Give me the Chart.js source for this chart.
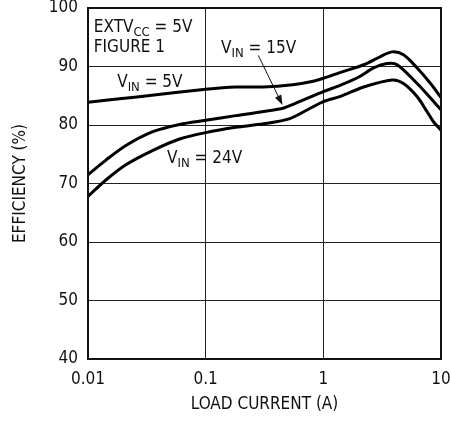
<!DOCTYPE html>
<html>
<head>
<meta charset="utf-8">
<script src="https://cdn.jsdelivr.net/npm/chart.js@4/dist/chart.umd.min.js"></script>
<style>
  html, body { margin: 0; padding: 0; background: #fff; }
  #wrap { width: 450px; height: 421px; }
</style>
</head>
<body>
<div id="wrap"><canvas id="chart"></canvas></div>
<script>
// Datos
const xTicks = [0.01, 0.1, 1, 10];
const xTickLabels = ['0.01', '0.1', '1', '10'];

const load5 = [0.01, 0.026, 0.1, 0.18, 0.31, 0.55, 0.78, 1, 1.4, 2.2, 3.06, 3.85, 4.8, 6.3, 8.15, 10];
const eff5 = [83.9, 84.8, 86.1, 86.5, 86.5, 86.9, 87.4, 88.0, 89.0, 90.3, 91.7, 92.5, 92.0, 89.7, 87.1, 84.7];

const load15 = [0.01, 0.0142, 0.021, 0.036, 0.06, 0.1, 0.18, 0.31, 0.46, 0.68, 1, 1.4, 2.0, 2.7, 3.48, 4.24, 6.27, 8.15, 10];
const eff15 = [71.5, 74.0, 76.5, 78.9, 80.1, 80.8, 81.6, 82.3, 82.9, 84.3, 85.7, 86.8, 88.2, 89.8, 90.5, 90.3, 87.1, 84.6, 82.6];

const load24 = [0.01, 0.0142, 0.021, 0.036, 0.06, 0.1, 0.18, 0.31, 0.52, 0.78, 1, 1.4, 2.2, 3.85, 4.8, 6.3, 7.6, 8.6, 10];
const eff24 = [67.8, 70.6, 73.2, 75.7, 77.6, 78.7, 79.6, 80.2, 81.1, 82.9, 84.0, 84.9, 86.5, 87.7, 87.1, 84.8, 82.3, 80.6, 79.1];

const FONT = "'Liberation Sans Narrow', 'DejaVu Sans Condensed', Arial, sans-serif";

function toPoints(xs, ys) {
    return xs.map((x, i) => ({ x: x, y: ys[i] }));
}

function lineSet(xs, ys) {
    return {
        data: toPoints(xs, ys),
        borderColor: '#000',
        borderWidth: 3,
        pointRadius: 0,
        fill: false,
        tension: 0.3
    };
}

// Texto con subíndice: partes [texto, esSub]
function drawRich(ctx, parts, x, y, size) {
    let cx = x;
    parts.forEach(p => {
        const sub = p[1];
        ctx.font = (sub ? Math.round(size * 0.78) : size) + 'px ' + FONT;
        ctx.fillText(p[0], cx, sub ? y + 4 : y);
        cx += ctx.measureText(p[0]).width;
    });
}

const notes = {
    id: 'notes',
    afterDatasetsDraw(chart) {
        const ctx = chart.ctx;
        const xs = chart.scales.x, ys = chart.scales.y;
        const px = v => xs.getPixelForValue(v);
        const py = v => ys.getPixelForValue(v);
        const area = chart.chartArea;
        ctx.save();
        // marco
        ctx.strokeStyle = '#111';
        ctx.lineWidth = 2;
        ctx.strokeRect(area.left, area.top, area.right - area.left, area.bottom - area.top);

        ctx.fillStyle = '#111';
        ctx.textBaseline = 'alphabetic';
        ctx.textAlign = 'left';
        const s = 17;
        drawRich(ctx, [['EXTV', false], ['CC', true], [' = 5V', false]], px(0.0112), py(95.9), s);
        drawRich(ctx, [['FIGURE 1', false]], px(0.0112), py(92.4), s);
        drawRich(ctx, [['V', false], ['IN', true], [' = 15V', false]], px(0.135), py(92.3), s);
        drawRich(ctx, [['V', false], ['IN', true], [' = 5V', false]], px(0.0177), py(86.5), s);
        drawRich(ctx, [['V', false], ['IN', true], [' = 24V', false]], px(0.047), py(73.5), s);

        // flecha
        const x1 = px(0.28), y1 = py(91.9), x2 = px(0.45), y2 = py(83.4);
        const a = Math.atan2(y2 - y1, x2 - x1);
        ctx.lineWidth = 1;
        ctx.beginPath();
        ctx.moveTo(x1, y1);
        ctx.lineTo(x2 - 6 * Math.cos(a), y2 - 6 * Math.sin(a));
        ctx.stroke();
        ctx.beginPath();
        ctx.moveTo(x2, y2);
        ctx.lineTo(x2 - 10 * Math.cos(a) + 3.5 * Math.sin(a), y2 - 10 * Math.sin(a) - 3.5 * Math.cos(a));
        ctx.lineTo(x2 - 10 * Math.cos(a) - 3.5 * Math.sin(a), y2 - 10 * Math.sin(a) + 3.5 * Math.cos(a));
        ctx.closePath();
        ctx.fill();
        ctx.restore();
    }
};

new Chart(document.getElementById('chart'), {
    type: 'line',
    data: {
        datasets: [lineSet(load5, eff5), lineSet(load15, eff15), lineSet(load24, eff24)]
    },
    options: {
        responsive: true,
        maintainAspectRatio: false,
        animation: false,
        layout: { padding: { top: 8, right: 9, left: 0, bottom: 0 } },
        plugins: { legend: { display: false }, tooltip: { enabled: false } },
        scales: {
            x: {
                type: 'logarithmic',
                min: 0.01,
                max: 10,
                afterBuildTicks: axis => { axis.ticks = xTicks.map(v => ({ value: v })); },
                afterFit: axis => {
                    axis.height = 62;
                    axis.paddingLeft = 0;
                    axis.paddingRight = 0;
                },
                ticks: {
                    color: '#111',
                    font: { family: FONT, size: 17 },
                    padding: 10,
                    maxRotation: 0,
                    autoSkip: false,
                    callback: (v) => xTickLabels[xTicks.indexOf(v)]
                },
                grid: { color: '#222', lineWidth: 1, drawTicks: false },
                border: { color: '#111', width: 2 },
                title: {
                    display: true,
                    text: 'LOAD CURRENT (A)',
                    color: '#111',
                    font: { family: FONT, size: 17 },
                    padding: { top: 2, bottom: 6 }
                }
            },
            y: {
                min: 40,
                max: 100,
                afterFit: axis => {
                    axis.width = 88;
                    axis.paddingTop = 0;
                    axis.paddingBottom = 0;
                },
                ticks: {
                    stepSize: 10,
                    color: '#111',
                    font: { family: FONT, size: 17 },
                    padding: 10
                },
                grid: { color: '#222', lineWidth: 1, drawTicks: false },
                border: { color: '#111', width: 2 },
                title: {
                    display: true,
                    text: 'EFFICIENCY (%)',
                    color: '#111',
                    font: { family: FONT, size: 17 },
                    padding: { top: 10, bottom: 0 }
                }
            }
        }
    },
    plugins: [notes]
});
</script>
</body>
</html>
